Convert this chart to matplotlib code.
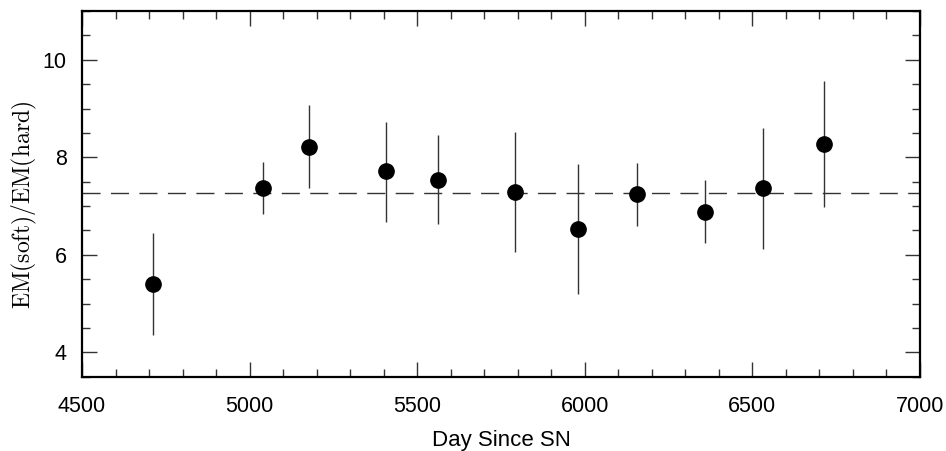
import matplotlib
matplotlib.use("Agg")
import matplotlib.pyplot as plt
from matplotlib.ticker import MultipleLocator

days = [4712, 5040, 5177, 5407, 5561, 5791, 5981, 6157, 6359, 6533, 6715]
ratio = [5.40, 7.37, 8.21, 7.71, 7.54, 7.28, 6.52, 7.24, 6.88, 7.36, 8.27]
err_hi = [6.45, 7.91, 9.07, 8.73, 8.45, 8.52, 7.86, 7.89, 7.54, 8.60, 9.57]
err_lo = [4.35, 6.83, 7.37, 6.68, 6.63, 6.05, 5.19, 6.59, 6.24, 6.11, 6.98]
mean_ratio = 7.26

plt.rcParams['font.family'] = ['Liberation Sans', 'DejaVu Sans']
plt.rcParams['mathtext.fontset'] = 'cm'

fig = plt.figure(figsize=(9.46, 4.51), dpi=100)
ax = fig.add_axes([0.0867, 0.1647, 0.9725 - 0.0867, 0.9756 - 0.1647])

yerr = [[r - l for r, l in zip(ratio, err_lo)], [h - r for r, h in zip(ratio, err_hi)]]
ax.errorbar(days, ratio, yerr=yerr, fmt='o', color='black', ecolor='#333333',
            elinewidth=1.0, capsize=0, markersize=11)
ax.axhline(mean_ratio, color='#333333', lw=1.0, dashes=(13, 7.5))

ax.set_xlim(4500, 7000)
ax.set_ylim(3.5, 11)
ax.xaxis.set_major_locator(MultipleLocator(500))
ax.xaxis.set_minor_locator(MultipleLocator(100))
ax.yaxis.set_major_locator(MultipleLocator(2))
ax.yaxis.set_minor_locator(MultipleLocator(0.5))
ax.tick_params(which='both', direction='in', top=True, right=True, color='#333333', width=1.0)
ax.tick_params(which='major', length=11, labelsize=15.5, pad=11)
ax.tick_params(axis='x', which='major', pad=14)
ax.tick_params(which='minor', length=5.5)
for s in ax.spines.values():
    s.set_linewidth(1.6)

ax.set_xlabel('Day Since SN', fontsize=16, labelpad=9)
ax.set_ylabel(r'$\mathrm{EM(soft)/EM(hard)}$', fontsize=17)
ax.yaxis.set_label_coords(-0.051, 0.47)

fig.savefig('out.png', dpi=100)
